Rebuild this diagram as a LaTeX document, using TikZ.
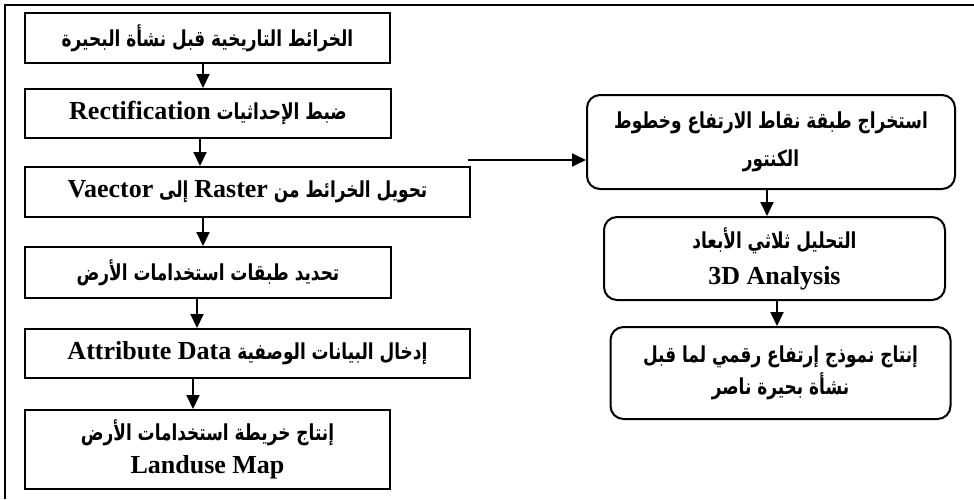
\documentclass[tikz,border=0pt]{standalone}
\usepackage{fontspec}
\setmainfont{Liberation Serif}
\newfontfamily\arabicfont[Script=Arabic,FakeStretch=0.77]{DejaVu Sans}
\TeXXeTstate=1
\usetikzlibrary{arrows.meta}
\newcommand\arf{\arabicfont\bfseries\fontsize{22}{35}\selectfont}
\newcommand\latf{\rmfamily\bfseries\fontsize{26}{35}\selectfont}
\tikzset{
  box/.style={draw, line width=2pt, rectangle, inner sep=0pt, align=center,
    font=\fontsize{26}{35}\selectfont},
  rbox/.style={box, rounded corners=13pt},
  arr/.style={line width=2pt, -{Triangle[width=13pt,length=14pt]}},
  frame/.style={line width=2pt}
}
\begin{document}
\begin{tikzpicture}[x=1pt,y=-1pt]
\useasboundingbox (0,0) rectangle (974,499);
% outer frame (cropped)
\coordinate (f1) at (5,499);
\coordinate (f2) at (5,5);
\coordinate (f3) at (974,5);
\draw[frame] (f1) -- (f2) -- (f3);
% left column
\node[box, minimum width=365, minimum height=50] (b1) at (207.5,38)
  {\arf\beginR الخرائط التاريخية قبل نشأة البحيرة\endR};
\node[box, minimum width=366, minimum height=49] (b2) at (208,113.5)
  {\arf\beginR ضبط الإحداثيات \beginL{\latf Rectification}\endL\endR};
\node[box, minimum width=445, minimum height=50] (b3) at (247.5,192)
  {\arf\beginR تحويل الخرائط من \beginL{\latf Raster}\endL{} إلى \beginL{\latf Vaector}\endL\endR};
\node[box, minimum width=366, minimum height=51] (b4) at (208,272.5)
  {\arf\beginR تحديد طبقات استخدامات الأرض\endR};
\node[box, minimum width=445, minimum height=49] (b5) at (247.5,353.5)
  {\arf\beginR إدخال البيانات الوصفية \beginL{\latf Attribute Data}\endL\endR};
\node[box, minimum width=365, minimum height=79] (b6) at (207.5,449.5)
  {{\arf\beginR إنتاج خريطة استخدامات الأرض\endR}\\[-2pt]{\latf Landuse Map}};
% right column
\node[rbox, minimum width=368, minimum height=94] (r1) at (771,142)
  {{\arf\beginR استخراج طبقة نقاط الارتفاع وخطوط\endR}\\[3pt]{\arf\beginR الكنتور\endR}};
\node[rbox, minimum width=341, minimum height=83] (r2) at (774.5,258.5)
  {{\arf\beginR التحليل ثلاثي الأبعاد\endR}\\[1pt]{\latf 3D Analysis}};
\node[rbox, minimum width=340, minimum height=92] (r3) at (780.5,373)
  {{\arf\beginR إنتاج نموذج إرتفاع رقمي لما قبل\endR}\\[-3pt]{\arf\beginR نشأة بحيرة ناصر\endR}};
% arrow x positions
\coordinate (c1) at (203,0);
\coordinate (c2) at (200,0);
\coordinate (c3) at (203,0);
\coordinate (c4) at (197,0);
\coordinate (c5) at (193,0);
\coordinate (c6) at (767,0);
\coordinate (c7) at (777,0);
\coordinate (hs) at (468,160);
\draw[arr] (b1.south -| c1) -- (b2.north -| c1);
\draw[arr] (b2.south -| c2) -- (b3.north -| c2);
\draw[arr] (b3.south -| c3) -- (b4.north -| c3);
\draw[arr] (b4.south -| c4) -- (b5.north -| c4);
\draw[arr] (b5.south -| c5) -- (b6.north -| c5);
\draw[arr] (hs) -- (r1.west |- hs);
\draw[arr] (r1.south -| c6) -- (r2.north -| c6);
\draw[arr] (r2.south -| c7) -- (r3.north -| c7);
\end{tikzpicture}
\end{document}
